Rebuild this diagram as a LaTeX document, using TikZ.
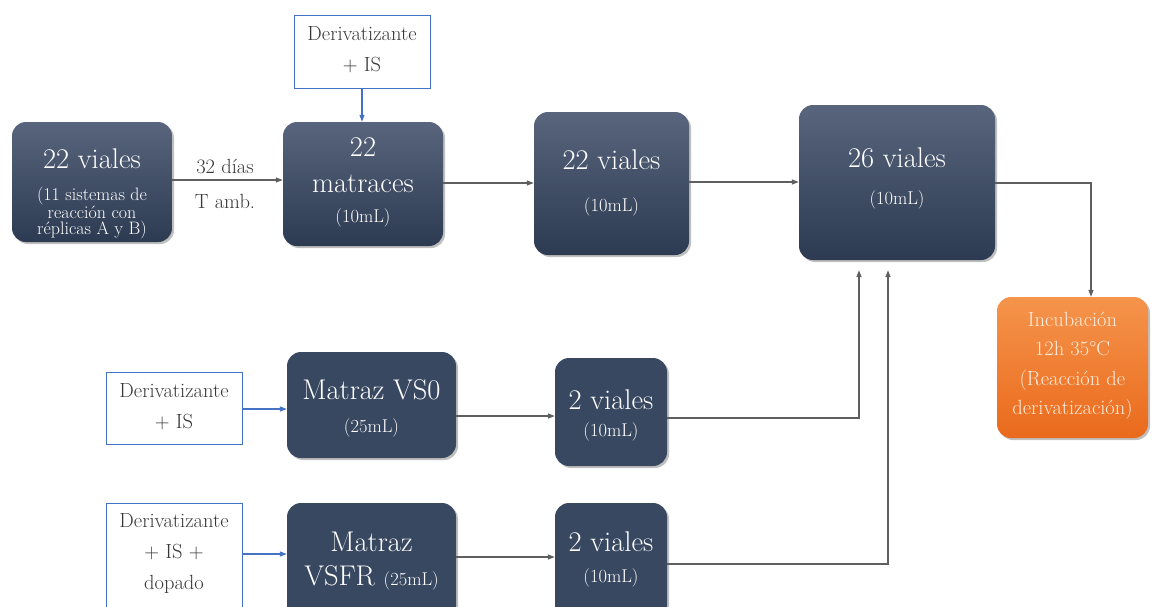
\documentclass[tikz,border=0pt]{standalone}
\usetikzlibrary{arrows.meta,shadows}
\definecolor{boxtop}{RGB}{88,101,124}
\definecolor{boxbot}{RGB}{44,58,82}
\definecolor{boxflat}{RGB}{57,72,97}
\definecolor{orgtop}{RGB}{245,148,76}
\definecolor{orgbot}{RGB}{234,106,28}
\definecolor{orgtext}{RGB}{253,238,222}
\definecolor{linegray}{RGB}{95,95,95}
\definecolor{lineblue}{RGB}{68,114,196}
\definecolor{txtgray}{RGB}{55,55,55}
\tikzset{
  shad/.style={drop shadow={shadow xshift=2pt,shadow yshift=-2pt,opacity=0.25,fill=black}},
  darkbox/.style={rounded corners=14pt,top color=boxtop,bottom color=boxbot,draw=none,shad,inner sep=0pt},
  flatbox/.style={rounded corners=14pt,fill=boxflat,draw=none,shad,inner sep=0pt},
  orgbox/.style={rounded corners=14pt,top color=orgtop,bottom color=orgbot,draw=none,shad,inner sep=0pt},
  inbox/.style={draw=lineblue,line width=1pt,fill=white,inner sep=0pt},
  big/.style={text=white,font=\rmfamily\fontsize{28.5}{36}\selectfont,inner sep=0pt,align=center},
  small/.style={text=white,font=\rmfamily\fontsize{18.5}{20}\selectfont,inner sep=0pt,align=center},
  tiny/.style={text=white,font=\rmfamily\fontsize{18}{16.5}\selectfont,inner sep=0pt,align=center},
  intext/.style={text=txtgray,font=\rmfamily\fontsize{20.5}{31}\selectfont,inner sep=0pt,align=center},
  lbl/.style={text=txtgray,font=\rmfamily\fontsize{20.5}{22}\selectfont,inner sep=0pt},
  orgtxt/.style={text=orgtext,font=\rmfamily\fontsize{20.5}{29.5}\selectfont,inner sep=0pt,align=center},
  arr/.style={draw=linegray,line width=1.3pt,-{Triangle[length=7pt,width=5pt]}},
  barr/.style={draw=lineblue,line width=1.1pt,-{Triangle[length=7pt,width=5pt]}},
}
\begin{document}
\begin{tikzpicture}[x=1pt,y=-1pt]
\clip (0,0) rectangle (1154,606);
\fill[white] (0,0) rectangle (1154,606);
% boxes
\node[darkbox,minimum width=160pt,minimum height=120pt] (A) at (92,182) {};
\node[darkbox,minimum width=160pt,minimum height=124pt] (B) at (363,184) {};
\node[inbox,minimum width=136pt,minimum height=73pt] (T) at (362,51.5) {};
\node[darkbox,minimum width=155pt,minimum height=143pt] (C) at (611.5,183.5) {};
\node[darkbox,minimum width=196pt,minimum height=155pt] (D) at (897,182.5) {};
\node[orgbox,minimum width=151pt,minimum height=141pt] (E) at (1072.5,367.5) {};
\node[inbox,minimum width=136pt,minimum height=72pt] (F) at (174,408) {};
\node[flatbox,minimum width=169pt,minimum height=106pt] (G) at (371.5,405) {};
\node[flatbox,minimum width=112pt,minimum height=108pt] (H) at (611,412) {};
\node[inbox,minimum width=136pt,minimum height=117pt] (I) at (174,561.5) {};
\node[flatbox,minimum width=169pt,minimum height=117pt] (J) at (371.5,561.5) {};
\node[flatbox,minimum width=112pt,minimum height=117pt] (K) at (611,561.5) {};
% texts
\node[big] (At) at (92,159) {22 viales};
\node[tiny] (As) at (92,213) {(11 sistemas de\\reacción con\\réplicas A y B)};
\node[lbl] (L1) at (225,167) {32 días};
\node[lbl] (L2) at (225,201) {T amb.};
\node[big] (Bt) at (363,165) {22\\matraces};
\node[small] (Bs) at (363,218) {(10mL)};
\node[intext] (Tt) at (362,50) {Derivatizante\\+ IS};
\node[big] (Ct) at (611.5,160) {22 viales};
\node[small] (Cs) at (611.5,207) {(10mL)};
\node[big] (Dt) at (897,158) {26 viales};
\node[small] (Ds) at (897,200) {(10mL)};
\node[orgtxt] (Et) at (1072.5,366) {Incubación\\12h 35°C\\(Reacción de\\derivatización)};
\node[intext] (Ft) at (174,407) {Derivatizante\\+ IS};
\node[big] (Gt) at (371.5,390) {Matraz VS0};
\node[small] (Gs) at (371.5,428) {(25mL)};
\node[big] (Ht) at (611,400) {2 viales};
\node[small] (Hs) at (611,432) {(10mL)};
\node[intext] (It) at (174,553) {Derivatizante\\+ IS +\\dopado};
\node[big] (Jt) at (371.5,542) {Matraz};
\node[big] (Ju) at (371.5,578) {VSFR {\fontsize{18.5}{20}\selectfont(25mL)}};
\node[big] (Kt) at (611,542) {2 viales};
\node[small] (Ks) at (611,578) {(10mL)};
% connectors
\draw[arr] (A.east |- 0,180) -- (B.west |- 0,180);
\draw[barr] (T.south) -- (T.south |- B.north);
\draw[arr] (B.east |- 0,183) -- (C.west |- 0,183);
\draw[arr] (C.east |- 0,182) -- (D.west |- 0,182);
\draw[arr] (D.east |- 0,183) -| ([xshift=18.5pt]E.north);
\draw[barr] (F.east |- 0,409) -- (G.west |- 0,409);
\draw[arr] (G.east |- 0,416) -- (H.west |- 0,416);
\draw[arr] (H.east |- 0,418) -| ([xshift=-38pt,yshift=-10pt]D.south);
\draw[barr] (I.east |- 0,554) -- (J.west |- 0,554);
\draw[arr] (J.east |- 0,557) -- (K.west |- 0,557);
\draw[arr] (K.east |- 0,564) -| ([xshift=-9pt,yshift=-10pt]D.south);
\end{tikzpicture}
\end{document}
